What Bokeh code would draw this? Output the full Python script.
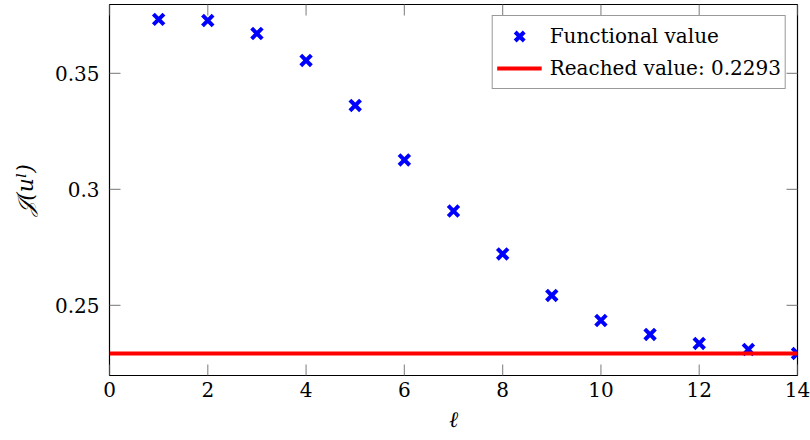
from bokeh.plotting import figure
from bokeh.models import Range1d, FixedTicker, Legend
from bokeh.embed import file_html
from bokeh.resources import INLINE

# data
ell = [1, 2, 3, 4, 5, 6, 7, 8, 9, 10, 11, 12, 13, 14]
functional_value = [0.3733, 0.3728, 0.3672, 0.3556, 0.3362, 0.3127, 0.2907,
                    0.2722, 0.2543, 0.2435, 0.2375, 0.2336, 0.2310, 0.2293]
reached_value = 0.2293
x_ticks = [0, 2, 4, 6, 8, 10, 12, 14]
y_ticks = [0.25, 0.3, 0.35]
y_tick_labels = ["0.25", "0.3", "0.35"]
x_min, x_max = 0, 14
y_min, y_max = 0.2198, 0.3797

FONT = "DejaVu Serif"
FS = "20px"
TICK_COLOR = "#909090"
W, H = 810, 440
BL, BR, BT, BB = 109, 13, 4, 65
TICK_PX = 11

p = figure(width=W, height=H, output_backend="svg", toolbar_location=None,
           x_range=Range1d(x_min, x_max), y_range=Range1d(y_min, y_max),
           min_border_left=BL, min_border_right=BR, min_border_top=BT,
           min_border_bottom=BB)
p.grid.visible = False
p.outline_line_color = "black"
p.outline_line_width = 1.2
p.background_fill_color = "white"
p.border_fill_color = "white"

for ax in (p.xaxis[0], p.yaxis[0]):
    ax.axis_line_color = None
    ax.major_tick_line_color = None
    ax.minor_tick_line_color = None
    ax.major_tick_in = 0
    ax.major_tick_out = 0
    ax.minor_tick_in = 0
    ax.minor_tick_out = 0
    ax.major_label_text_font = FONT
    ax.major_label_text_font_size = FS
    ax.major_label_text_color = "black"
    ax.axis_label_text_font = FONT
    ax.axis_label_text_font_style = "italic"
    ax.axis_label_text_font_size = "22px"
    ax.axis_label_text_color = "black"

p.xaxis.ticker = FixedTicker(ticks=x_ticks)
p.yaxis.ticker = FixedTicker(ticks=y_ticks)
p.yaxis.major_label_overrides = {t: s for t, s in zip(y_ticks, y_tick_labels)}
p.xaxis.major_label_standoff = 6
p.yaxis.major_label_standoff = 10
p.xaxis.axis_label = "ℓ"
p.yaxis.axis_label = "𝒥(uˡ)"
p.xaxis.axis_label_standoff = 7
p.yaxis.axis_label_standoff = 14

# inward tick marks on all four sides (pgfplots style)
dx = TICK_PX * (x_max - x_min) / (W - BL - BR)
dy = TICK_PX * (y_max - y_min) / (H - BT - BB)
nx, ny = len(x_ticks), len(y_ticks)
tick_style = dict(line_color=TICK_COLOR, line_width=1.2)
p.segment(x0=x_ticks, y0=[y_min] * nx, x1=x_ticks, y1=[y_min + dy] * nx, **tick_style)
p.segment(x0=x_ticks, y0=[y_max] * nx, x1=x_ticks, y1=[y_max - dy] * nx, **tick_style)
p.segment(x0=[x_min] * ny, y0=y_ticks, x1=[x_min + dx] * ny, y1=y_ticks, **tick_style)
p.segment(x0=[x_max] * ny, y0=y_ticks, x1=[x_max - dx] * ny, y1=y_ticks, **tick_style)

r_pts = p.scatter(ell, functional_value, marker="x", size=15, line_width=4,
                  line_color="blue")
r_line = p.hspan(y=[reached_value], line_color="red", line_width=4)

legend = Legend(items=[("Functional value", [r_pts]),
                       ("Reached value: 0.2293", [r_line])],
                location="top_right")
legend.label_text_font = FONT
legend.label_text_font_size = FS
legend.label_text_color = "black"
legend.glyph_width = 45
legend.glyph_height = 32
legend.label_height = 24
legend.label_standoff = 8
legend.spacing = 0
legend.padding = 4
legend.margin = 11
legend.border_line_color = "#333333"
legend.border_line_width = 1
legend.background_fill_alpha = 1
p.add_layout(legend, "center")

open("out.html", "w").write(file_html(p, INLINE))
